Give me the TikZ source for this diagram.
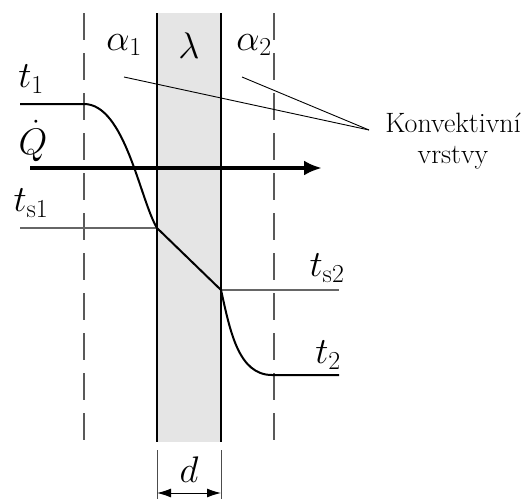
\RequirePackage{fix-cm}
\documentclass[tikz,border=0pt]{standalone}
\usepackage{fontspec}
\usetikzlibrary{arrows.meta}
\tikzset{
  lab/.style={inner sep=0pt, font=\fontsize{37}{42}\selectfont},
  txt/.style={inner sep=0pt, align=center, font={\rmfamily\fontsize{28}{31}\selectfont}},
  wallline/.style={line width=2.4pt, black},
  dashline/.style={line width=1.4pt, black!65, dash pattern=on 27pt off 13pt},
  curve/.style={line width=2pt, black},
  level/.style={line width=1.3pt, black!60},
  leader/.style={line width=0.9pt, black},
  heat/.style={line width=4.5pt, -{Latex[length=18pt,width=15pt]}},
  dimline/.style={line width=1pt, {Latex[length=14pt,width=9pt]}-{Latex[length=14pt,width=9pt]}},
  tick/.style={line width=1pt, black!70}
}
\begin{document}
\begin{tikzpicture}[x=1pt,y=-1pt]
\useasboundingbox (0,0) rectangle (532,499);
% wall
\fill[black!10] (157,13) rectangle (221,442);
\coordinate (wlt) at (157,13); \coordinate (wlb) at (157,442);
\coordinate (wrt) at (221,13); \coordinate (wrb) at (221,442);
\coordinate (dlt) at (84,13); \coordinate (dlb) at (84,442);
\coordinate (drt) at (274,13); \coordinate (drb) at (274,442);
\draw[dashline] (dlt) -- (dlb);
\draw[dashline] (drt) -- (drb);
% levels
\coordinate (t1s) at (20,104); \coordinate (t1e) at (84,104);
\coordinate (ts1s) at (20,228); \coordinate (ts1) at (157,228);
\coordinate (ts2) at (221,290); \coordinate (ts2e) at (339,290);
\coordinate (t2s) at (272,375); \coordinate (t2e) at (339,375);
\draw[level] (ts1s) -- (ts1);
\draw[level] (ts2) -- (ts2e);
% heat arrow
\coordinate (qs) at (30,168); \coordinate (qe) at (322,168);
\draw[heat] (qs) -- (qe);
% walls over
\draw[wallline] (wlt) -- (wlb);
\draw[wallline] (wrt) -- (wrb);
% temperature profile
\draw[curve] (t1s) -- (t1e) .. controls (125,104) and (140,200) .. (ts1) -- (ts2)
  .. controls (230,330) and (238,375) .. (t2s) -- (t2e);
% leaders
\node[txt] (konv) at (453,141) {Konvektivní\\vrstvy};
\coordinate (lp) at (369,130);
\coordinate (la1) at (124,77);
\coordinate (la2) at (242,77);
\draw[leader] (la1) -- (lp);
\draw[leader] (la2) -- (lp);
% labels
\node[lab] (a1) at (124,45) {$\alpha_1$};
\node[lab] (lam) at (189,46) {$\lambda$};
\node[lab] (a2) at (254,45) {$\alpha_2$};
\node[lab] (t1) at (31,79) {$t_1$};
\node[lab] (q) at (33,141) {$\dot Q$};
\node[lab] (ts1l) at (31,203) {$t_{\mathrm{s1}}$};
\node[lab] (ts2l) at (327,268) {$t_{\mathrm{s2}}$};
\node[lab] (t2l) at (328,355) {$t_2$};
% dimension
\coordinate (d1t) at (157,450); \coordinate (d1b) at (157,499);
\coordinate (d2t) at (221,450); \coordinate (d2b) at (221,499);
\draw[tick] (d1t) -- (d1b);
\draw[tick] (d2t) -- (d2b);
\coordinate (da) at (157,493); \coordinate (db) at (221,493);
\draw[dimline] (da) -- (db);
\node[lab] (d) at (189,470) {$d$};
\end{tikzpicture}
\end{document}
